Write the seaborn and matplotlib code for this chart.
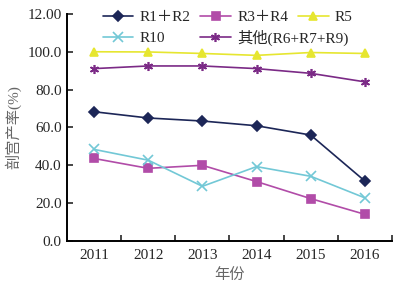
import numpy as np
import pandas as pd
import matplotlib
matplotlib.use('Agg')
import matplotlib.pyplot as plt
from matplotlib.ticker import FixedLocator
import seaborn as sns

years = ['2011', '2012', '2013', '2014', '2015', '2016']
series = ['R1＋R2', 'R3＋R4', 'R5', 'R10', '其他(R6+R7+R9)']
r12 = [68.3, 65.0, 63.4, 60.9, 56.0, 31.7]
r34 = [43.6, 38.4, 40.0, 31.4, 22.4, 14.1]
r5 = [100.0, 99.9, 99.1, 98.1, 99.6, 99.1]
r10 = [48.4, 42.7, 28.9, 39.3, 34.2, 22.8]
other = [91.1, 92.5, 92.5, 91.1, 88.6, 84.1]
ytick_labels = ['0.0', '20.0', '40.0', '60.0', '80.0', '100.0', '12.00']

colors = ['#1c2657', '#b14ca8', '#e6e630', '#72c8d6', '#7b2a86']
markers = ['D', 's', '^', 'x', (6, 2, 0)]
msizes = [5.5, 5.5, 6, 7, 6.5]

sns.set_style('white')
plt.rcParams['font.family'] = ['Liberation Serif', 'Noto Sans CJK SC']

fig = plt.figure(figsize=(4.04, 2.90), dpi=100)
ax = fig.add_axes([0.166, 0.169, 0.804, 0.783])

x = np.arange(len(years))
for name, vals, c, m, ms in zip(series, [r12, r34, r5, r10, other], colors, markers, msizes):
    sns.lineplot(x=x, y=vals, color=c, marker=m, markersize=ms,
                 markeredgewidth=1.2, markeredgecolor=c, linewidth=1.2,
                 label=name, ax=ax)

ax.set_xlim(-0.5, 5.5)
ax.set_ylim(0, 120)
ax.set_yticks(np.arange(0, 121, 20))
ax.set_yticklabels(ytick_labels, fontsize=11)
ax.set_xticks(x)
ax.set_xticklabels(years, fontsize=11)
ax.xaxis.set_minor_locator(FixedLocator(np.arange(0.5, 6, 1)))
ax.tick_params(axis='x', which='major', length=0, pad=6)
ax.tick_params(axis='x', which='minor', direction='in', length=4, width=1.2, bottom=True)
ax.tick_params(axis='y', which='major', direction='in', length=4, width=1.2, left=True, pad=4)

for s in ['top', 'right']:
    ax.spines[s].set_visible(False)
for s in ['left', 'bottom']:
    ax.spines[s].set_color('black')
    ax.spines[s].set_linewidth(1.4)

ax.set_xlabel('年份', fontsize=11, color='#666666', labelpad=4)
ax.set_ylabel('剖宫产率(%)', fontsize=11, color='#666666', labelpad=4)

# 图例分两行，像Excel那样流式排列
h, l = ax.get_legend_handles_labels()
kw = dict(loc='upper left', frameon=False, fontsize=11, handlelength=2.0,
          handletextpad=0.4, borderpad=0, borderaxespad=0)
leg1 = ax.legend(h[:3], l[:3], bbox_to_anchor=(0.11, 1.015), ncol=3,
                 columnspacing=0.65, **kw)
ax.add_artist(leg1)
ax.legend(h[3:], l[3:], bbox_to_anchor=(0.11, 0.932), ncol=2,
          columnspacing=2.3, **kw)

fig.savefig('out.png', dpi=100, facecolor='white')
